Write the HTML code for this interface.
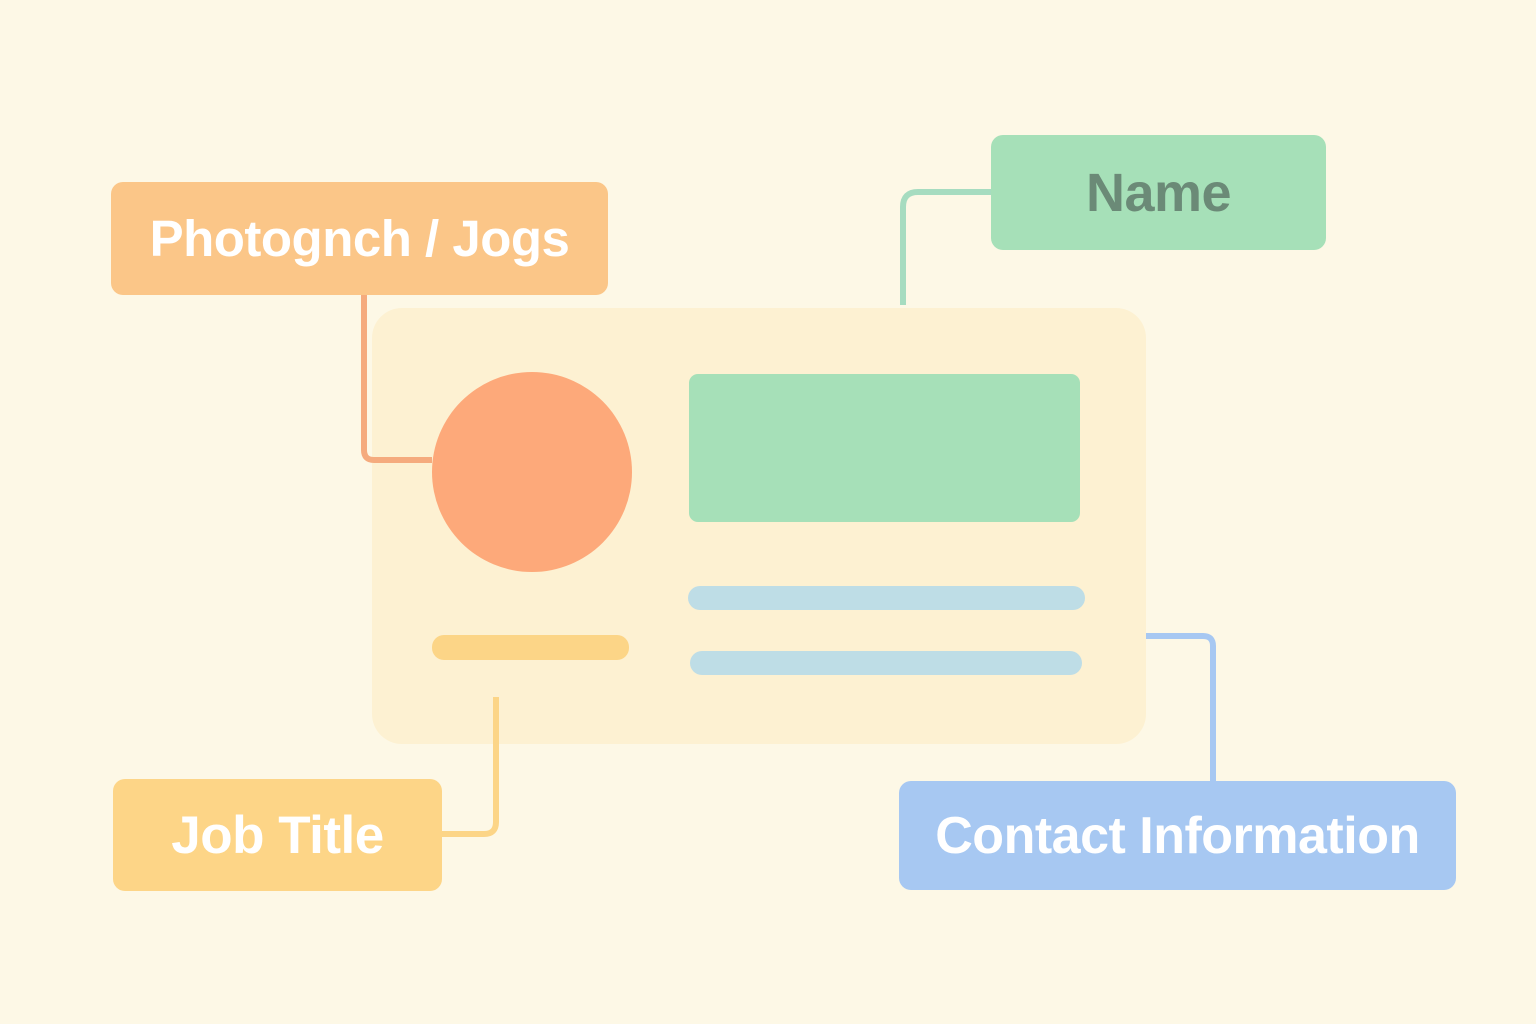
<!DOCTYPE html>
<html><head><meta charset="utf-8"><style>
html,body{margin:0;padding:0}
body{width:1536px;height:1024px;background:#fdf8e6;position:relative;overflow:hidden;font-family:"Liberation Sans",sans-serif}
.a{position:absolute}
.lbl{position:absolute;display:flex;align-items:center;justify-content:center;font-weight:bold;color:#fff;font-size:50px;letter-spacing:-0.5px;border-radius:12px}
</style></head><body>
<svg class="a" style="left:0;top:0" width="1536" height="1024">
<rect x="372" y="308" width="774" height="436" rx="30" fill="#fdf1d2"/>
<circle cx="532" cy="472" r="100" fill="#fda97a"/>
<rect x="689" y="374" width="391" height="148" rx="9" fill="#a6e0b8"/>
<rect x="688" y="586" width="397" height="24" rx="12" fill="#bedde6"/>
<rect x="690" y="651" width="392" height="24" rx="12" fill="#bedde6"/>
<rect x="432" y="635" width="197" height="25" rx="12" fill="#fcd587"/>
<path d="M364 295 V450 Q364 460 374 460 H432" stroke="#f5ab7e" stroke-width="6" fill="none"/>
<path d="M903 305 V207 Q903 192 918 192 H991" stroke="#a6dcc0" stroke-width="6" fill="none"/>
<path d="M1146 636 H1203 Q1213 636 1213 646 V781" stroke="#a7c8f2" stroke-width="6" fill="none"/>
<path d="M496 697 V822 Q496 834 484 834 H442" stroke="#fcd587" stroke-width="6" fill="none"/>
</svg>
<div class="lbl" style="left:111px;top:182px;width:497px;height:113px;background:#fbc688;font-size:51px">Photognch / Jogs</div>
<div class="lbl" style="left:991px;top:135px;width:335px;height:115px;background:#a6e0b8;color:#6b8a77;font-size:54px">Name</div>
<div class="lbl" style="left:113px;top:779px;width:329px;height:112px;background:#fdd587;font-size:53px">Job Title</div>
<div class="lbl" style="left:899px;top:781px;width:557px;height:109px;background:#a7c8f2;font-size:52px">Contact Information</div>
</body></html>
